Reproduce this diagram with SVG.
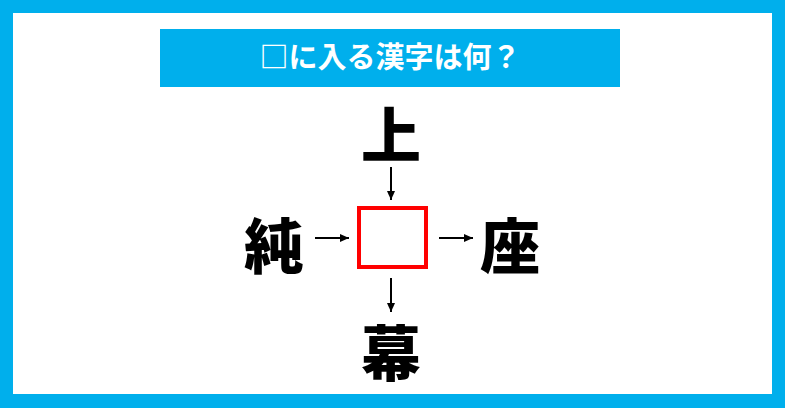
<svg xmlns="http://www.w3.org/2000/svg" width="785" height="408" viewBox="0 0 785 408">
<defs>
<style>
.k{font-family:"Noto Sans CJK JP","Noto Sans CJK SC",sans-serif;font-weight:900;font-size:60px;fill:#000;text-anchor:middle}
.t{font-family:"Noto Sans CJK JP","Noto Sans CJK SC",sans-serif;font-weight:700;font-size:29px;fill:#fff;text-anchor:middle}
.c{stroke:#000;stroke-width:2;fill:none}
</style>
<marker id="ah" viewBox="0 0 10 10" refX="10" refY="5" markerWidth="9" markerHeight="8" markerUnits="userSpaceOnUse" orient="auto" preserveAspectRatio="none">
<path d="M0,0 L10,5 L0,10 z" fill="#000"/>
</marker>
</defs>
<rect x="0" y="0" width="785" height="408" fill="#00afec"/>
<rect x="13" y="13" width="759" height="381" fill="#fff"/>
<g id="title">
<rect x="160" y="29" width="460" height="58" fill="#00afec"/>
<text class="t" x="390" y="68">□に入る漢字は何？</text>
</g>
<g id="top"><text class="k" x="391" y="158">上</text></g>
<g id="left"><text class="k" x="274" y="269">純</text></g>
<g id="right"><text class="k" x="510" y="269">座</text></g>
<g id="bottom"><text class="k" x="391" y="376">幕</text></g>
<g id="center"><rect x="359" y="208" width="67" height="59" fill="#fff" stroke="#ff0000" stroke-width="4"/></g>
<g id="connectors">
<line class="c" x1="391" y1="167" x2="391" y2="200" marker-end="url(#ah)"/>
<line class="c" x1="315" y1="238" x2="349" y2="238" marker-end="url(#ah)"/>
<line class="c" x1="439" y1="238" x2="473" y2="238" marker-end="url(#ah)"/>
<line class="c" x1="391" y1="278" x2="391" y2="312" marker-end="url(#ah)"/>
</g>
</svg>
